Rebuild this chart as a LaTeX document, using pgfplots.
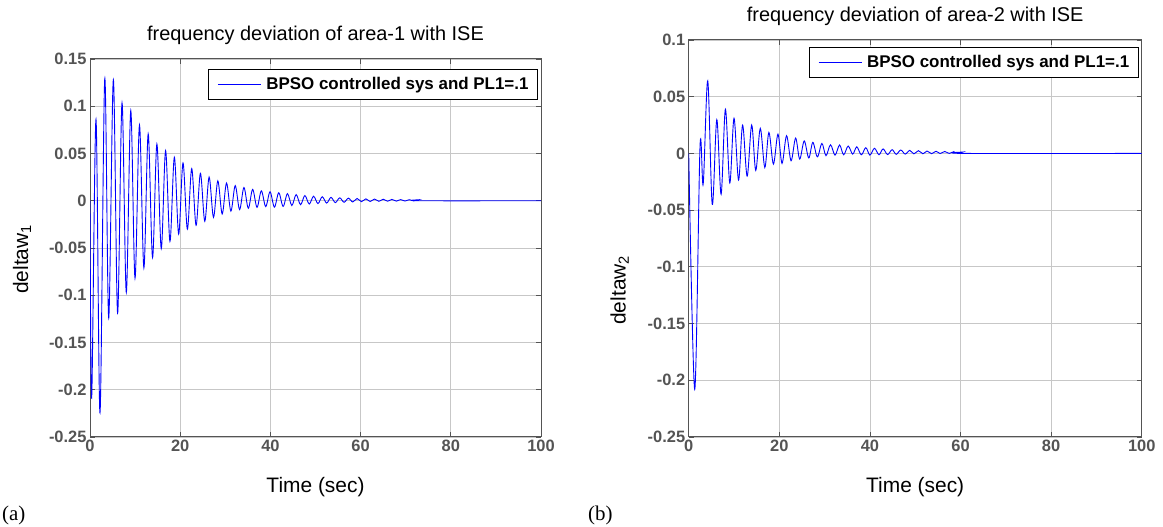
\documentclass[border=0pt]{standalone}
\usepackage{fontspec}
\setmainfont{Liberation Sans}
\newfontfamily\seriffont{Liberation Serif}
\usepackage{pgfplots}
\pgfplotsset{compat=1.18}
\definecolor{axc}{gray}{0.33}
\definecolor{gridc}{gray}{0.78}
\definecolor{sig}{rgb}{0,0,1}
\pgfplotsset{
  mystyle/.style={
    scale only axis,
    anchor=south west,
    xmin=0, xmax=100,
    xtick={0,20,40,60,80,100},
    xticklabels={0,20,40,60,80,100},
    grid=major,
    major grid style={draw=gridc, line width=0.7bp},
    axis line style={draw=axc, line width=1bp},
    tick align=inside,
    major tick length=5bp,
    tick style={draw=axc, line width=0.8bp},
    ticklabel style={font=\fontsize{16.5}{18}\selectfont\bfseries, text=axc},
    title style={font=\fontsize{20}{22}\selectfont, at={(0.5,1)}, anchor=base, yshift=13bp},
    xlabel style={font=\fontsize{21}{23}\selectfont, at={(0.5,0)}, anchor=base, yshift=-56bp},
    ylabel style={font=\fontsize{21}{23}\selectfont, anchor=center},
    legend style={draw=black, line width=1bp, at={(1,1)}, anchor=north east, xshift=-3bp,
      inner xsep=9bp, inner ysep=8bp, font=\fontsize{17}{19}\selectfont\bfseries,
      nodes={inner sep=0pt}, column sep=5bp},
    legend image code/.code={\draw[#1] (0bp,0bp) -- (43bp,0bp);},
    legend cell align=left,
  }
}
\begin{document}
\begin{tikzpicture}[x=1bp,y=1bp]
\useasboundingbox (0,0) rectangle (1163,527);
\begin{axis}[mystyle,
  at={(90bp,90bp)}, width=451bp, height=378bp,
  ymin=-0.25, ymax=0.15,
  ytick={-0.25,-0.2,-0.15,-0.1,-0.05,0,0.05,0.1,0.15},
  yticklabels={-0.25,-0.2,-0.15,-0.1,-0.05,0,0.05,0.1,0.15},
  title={frequency deviation of area-1 with ISE},
  xlabel={Time (sec)},
  ylabel={deltaw$_{\mathrm{1}}$},
  ylabel style={at={(axis description cs:-0.1508,0.47)}},
  legend style={yshift=-10bp},
]
\addplot[sig, line width=0.9bp, smooth, tension=0.55] coordinates {
(0,0) (0.37,-0.209) (1.33,0.086) (2.22,-0.2245) (3.27,0.129) (4.15,-0.124)
(5.18,0.128) (6.12,-0.119) (7.1,0.1035) (8.05,-0.097) (9.04,0.0954) (9.98,-0.082)
(10.97,0.080) (11.95,-0.071) (12.9,0.0707) (13.87,-0.060) (14.83,0.060) (15.8,-0.0507)
(16.76,0.053) (17.73,-0.043) (18.7,0.046) (19.66,-0.0353) (20.62,0.040) (21.59,-0.030)
(22.55,0.034) (23.52,-0.026) (24.48,0.029) (25.45,-0.0217) (26.41,0.025) (27.38,-0.0175)
(28.34,0.021) (29.31,-0.014) (30.27,0.0187) (31.24,-0.011) (32.2,0.016) (33.17,-0.0094)
(34.13,0.014) (35.1,-0.008) (36.06,0.012) (37.03,-0.007) (37.99,0.0105) (38.96,-0.0062)
(39.92,0.0095) (40.89,-0.0068) (41.85,0.0085) (42.82,-0.006) (43.78,0.0075) (44.75,-0.005)
(45.71,0.0065) (46.68,-0.0042) (47.64,0.0055) (48.61,-0.0035) (49.57,0.0048) (50.54,-0.003)
(51.5,0.0042) (52.47,-0.0025) (53.43,0.0036) (54.4,-0.002) (55.36,0.0031) (56.33,-0.0016)
(57.29,0.0027) (58.26,-0.0013) (59.22,0.0024) (60.19,-0.001) (61.15,0.002) (62.12,-0.0008)
(63.08,0.0018) (64.05,-0.0006) (65.01,0.0016) (65.98,-0.0005) (66.94,0.0014) (67.91,-0.0004)
(68.87,0.0012) (69.84,-0.0003) (70.8,0.0011) (71.77,-0.0002) (72.73,0.001) (73.2,0) (100,0)
};
\addlegendentry{BPSO controlled sys and PL1=.1}
\end{axis}
\begin{axis}[mystyle,
  at={(688.7bp,90bp)}, width=453bp, height=397bp,
  ymin=-0.25, ymax=0.1,
  ytick={-0.25,-0.2,-0.15,-0.1,-0.05,0,0.05,0.1},
  yticklabels={-0.25,-0.2,-0.15,-0.1,-0.05,0,0.05,0.1},
  title={frequency deviation of area-2 with ISE},
  xlabel={Time (sec)},
  ylabel={deltaw$_{\mathrm{2}}$},
  ylabel style={at={(axis description cs:-0.1523,0.37)}},
  legend style={yshift=-7bp},
]
\addplot[sig, line width=0.9bp, smooth, tension=0.55] coordinates {
(0,0) (1.33,-0.208) (2.5,0.0065) (3.2,-0.027) (4.2,0.064) (5.2,-0.045)
(6.2,0.0297) (7.15,-0.036) (8.1,0.039) (9.07,-0.026) (10.0,0.031) (11.0,-0.0235)
(11.9,0.025) (12.9,-0.020) (13.9,0.025) (14.8,-0.015) (15.8,0.022) (16.8,-0.0124)
(17.7,0.0185) (18.7,-0.0094) (19.7,0.017) (20.6,-0.0088) (21.6,0.0156) (22.6,-0.0065)
(23.6,0.0135) (24.5,-0.005) (25.5,0.011) (26.5,-0.004) (27.4,0.0097) (28.4,-0.003)
(29.4,0.0088) (30.3,-0.002) (31.3,0.0076) (32.3,-0.0015) (33.3,0.0074) (34.2,-0.0012)
(35.2,0.0065) (36.2,-0.0006) (37.1,0.0058) (38.1,-0.0012) (39.1,0.005) (40.0,-0.0015)
(41.0,0.0045) (42.0,-0.0012) (42.9,0.004) (43.9,-0.001) (44.9,0.0033) (45.8,-0.0008)
(46.8,0.003) (47.8,-0.0006) (48.8,0.0027) (49.7,-0.0004) (50.7,0.0024) (51.7,-0.0003)
(52.6,0.0021) (53.6,-0.0002) (54.6,0.0019) (55.5,-0.0001) (56.5,0.0017) (57.5,0)
(58.5,0.0015) (59.4,0) (60.4,0.0012) (61.0,0) (100,0)
};
\addlegendentry{BPSO controlled sys and PL1=.1}
\end{axis}
\node[anchor=base west, inner sep=0pt, font=\seriffont\fontsize{21}{24}\selectfont] at (2,6.3) {(a)};
\node[anchor=base west, inner sep=0pt, font=\seriffont\fontsize{21}{24}\selectfont] at (588,6.3) {(b)};
\end{tikzpicture}
\end{document}
